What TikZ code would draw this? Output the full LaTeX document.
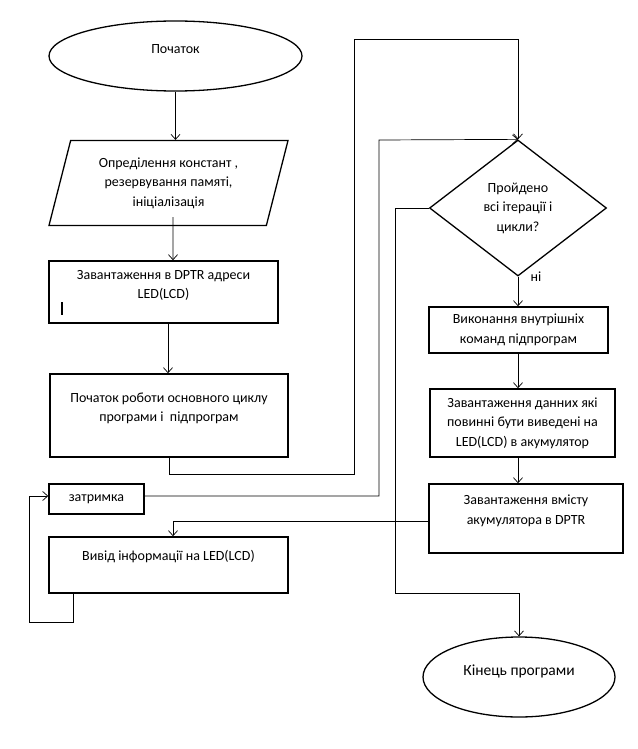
\documentclass[tikz,border=0pt]{standalone}
\usepackage{fontspec}
\setmainfont{Carlito}
\usetikzlibrary{shapes.geometric,arrows.meta,positioning}

\begin{document}
\begin{tikzpicture}[x=1pt,y=-1pt,
  font=\fontsize{14}{19.5}\selectfont,
  block/.style={draw,line width=1.6pt,rectangle,align=center,inner sep=0pt},
  term/.style={draw,line width=1.3pt,ellipse,align=center,inner sep=0pt},
  arr/.style={-{Straight Barb[length=5pt,width=9pt]},line width=0.7pt}]
\useasboundingbox (0,0) rectangle (637,749);
\node[term,minimum width=253pt,minimum height=70pt] (start) at (175.5,56) {Початок\\[-5.5pt]\mbox{}};
\node[draw,trapezium,line width=1.3pt,trapezium left angle=75.7,trapezium right angle=104.3,trapezium stretches body,minimum width=239pt,inner xsep=0pt,inner ysep=17pt,align=center] (consts) at (168.5,183) {Опреділення констант ,\\резервування памяті,\\ініціалізація};
\node[block,minimum width=229pt,minimum height=62pt] (load) at (163.5,292) {Завантаження в DPTR адреси\\LED(LCD)\\[-4pt]\mbox{}};
\node[block,minimum width=238pt,minimum height=83pt] (main) at (169,415.5) {Початок роботи основного циклу\\програми і~ підпрограм\\[-3pt]\mbox{}};
\node[draw,diamond,aspect=1.3,line width=1.3pt,minimum width=177pt,minimum height=136pt,align=center,inner sep=0pt] (check) at (518,208) {Пройдено\\всі ітерації і\\цикли?};
\node[block,minimum width=179pt,minimum height=46pt] (exec) at (518.5,330) {Виконання внутрішніх\\команд підпрограм};
\node[block,minimum width=185pt,minimum height=68pt] (data) at (522.5,423) {Завантаження данних які\\повинні бути виведені на\\LED(LCD) в акумулятор};
\node[block,minimum width=194pt,minimum height=69pt] (dptr) at (526,518.5) {Завантаження вмісту\\акумулятора в DPTR\\[-2pt]\mbox{}};
\node[block,minimum width=95pt,minimum height=30pt] (delay) at (96.5,499) {затримка};
\node[block,minimum width=239pt,minimum height=56pt] (out) at (168.5,565) {Вивід інформації на LED(LCD)\\\mbox{}};
\node[term,minimum width=192pt,minimum height=80pt,font=\fontsize{15.5}{19.5}\selectfont] (finish) at (519,677) {Кінець програми\\[-6pt]\mbox{}};
\draw[line width=1.6pt] (62,302) -- (62,315);
\draw[arr] (start.south) -- (start.south |- consts.north);
\draw[arr] ([xshift=4.5pt,yshift=9pt]consts.south) -- ([xshift=9.5pt]load.north);
\draw[arr] ([xshift=4.5pt]load.south) -- ([xshift=4.5pt]load.south |- main.north);
\draw[arr] (main.south) -- ++(0,17) -| (354,39) -| (check.north);
\draw[arr] ([yshift=3pt]delay.east) -| (379,140) -- (check.north);
\draw[arr] (check.west) -| (395,593) -| (finish.north);
\draw[arr] (check.south) -- node[pos=0,right=9pt] {ні} (check.south |- exec.north);
\draw[arr] (exec.south -| check.south) -- (data.north -| check.south);
\draw[arr] (data.south -| check.south) -- (dptr.north -| check.south);
\draw[arr] ([yshift=-2.5pt]dptr.west) -| ([xshift=4.5pt]out.north);
\draw[arr] ([xshift=-95.5pt]out.south) |- (29,622) |- ([yshift=3pt]delay.west);
\end{tikzpicture}
\end{document}
